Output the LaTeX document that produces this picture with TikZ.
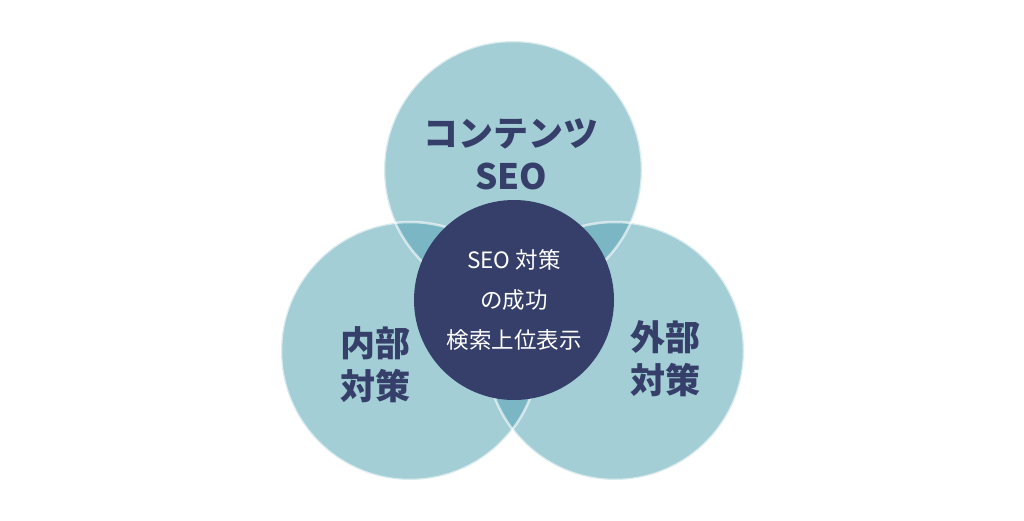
\documentclass[tikz,border=0pt]{standalone}
\usepackage{fontspec}
\setmainfont{Noto Sans CJK JP}
\usetikzlibrary{positioning}

\definecolor{seoteal}{HTML}{A3CED6}
\definecolor{seooverlap}{HTML}{7AB6C3}
\definecolor{seonavy}{HTML}{363F69}

\begin{document}
\begin{tikzpicture}[
        x=1pt, y=-1pt,
        disc/.style={fill=seoteal},
        rim/.style={draw=white, draw opacity=0.6, line width=2.5pt},
        bigword/.style={text=seonavy, align=center, font=\bfseries\fontsize{35}{43}\selectfont},
        goalbox/.style={circle, fill=seonavy, minimum size=200pt, text=white, align=center,
            font=\fontsize{22.5}{40}\selectfont}
    ]
    \useasboundingbox (0,0) rectangle (1024,521);

    % Mittelpunkte
    \coordinate (ctop) at (513,170);
    \coordinate (cleft) at (410,351);
    \coordinate (cright) at (615,351);

    % Kreise
    \fill[disc] (ctop) circle[radius=129pt];
    \fill[disc] (cleft) circle[radius=129pt];
    \fill[disc] (cright) circle[radius=129pt];

    % Schnittflaechen
    \begin{scope}
        \clip (ctop) circle[radius=129pt];
        \fill[seooverlap] (cleft) circle[radius=129pt];
        \fill[seooverlap] (cright) circle[radius=129pt];
    \end{scope}
    \begin{scope}
        \clip (cleft) circle[radius=129pt];
        \fill[seooverlap] (cright) circle[radius=129pt];
    \end{scope}

    % Raender
    \draw[rim] (ctop) circle[radius=129pt];
    \draw[rim] (cleft) circle[radius=129pt];
    \draw[rim] (cright) circle[radius=129pt];

    % Texte
    \node (content) [bigword] at (511,154) {コンテンツ\\SEO};
    \node (inner) [bigword] at (375,365) {内部\\対策};
    \node (outer) [bigword] at (665,359) {外部\\対策};
    \node (goal) [goalbox] at (514,300) {SEO 対策\\の成功\\検索上位表示};

\end{tikzpicture}
\end{document}
